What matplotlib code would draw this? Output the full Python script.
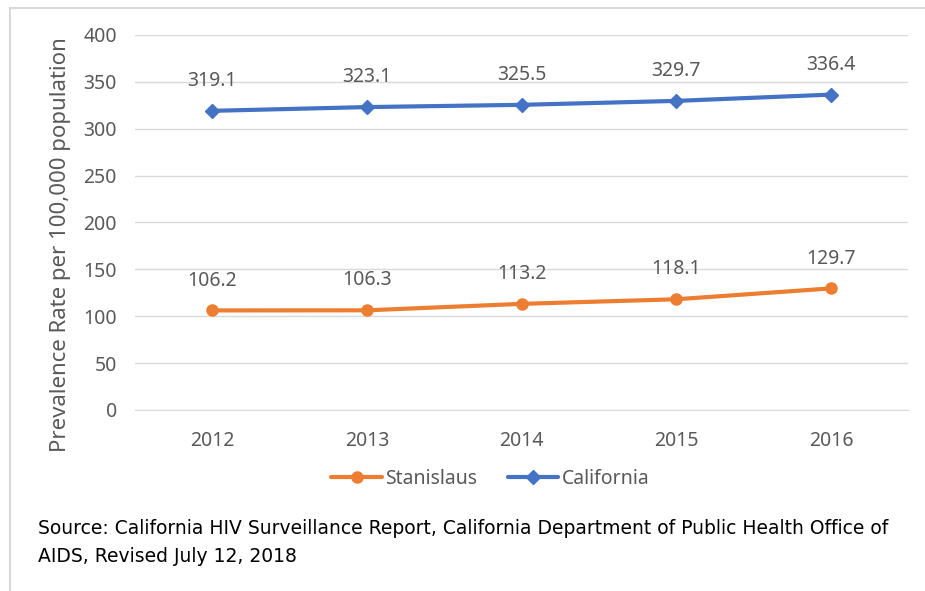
import matplotlib.pyplot as plt
from matplotlib.lines import Line2D

years = ['2012', '2013', '2014', '2015', '2016']
stanislaus = [106.2, 106.3, 113.2, 118.1, 129.7]
california = [319.1, 323.1, 325.5, 329.7, 336.4]
yticks = [0, 50, 100, 150, 200, 250, 300, 350, 400]

grey = '#595959'
orange = '#ED7D31'
blue = '#4472C4'
plt.rcParams['font.family'] = ['Noto Sans', 'DejaVu Sans']

fig = plt.figure(figsize=(9.25, 5.91), dpi=100)
ax = fig.add_axes([0.146, 0.3063, 0.836, 0.6345])

x = range(len(years))
ax.plot(x, stanislaus, color=orange, lw=3, marker='o', ms=8, label='Stanislaus',
        solid_capstyle='round')
ax.plot(x, california, color=blue, lw=3, marker='D', ms=7, label='California',
        solid_capstyle='round')

for i in x:
    ax.annotate(f'{stanislaus[i]:.1f}', (i, stanislaus[i]), xytext=(0, 21.5),
                textcoords='offset points', ha='center', va='center',
                color=grey, fontsize=14)
    ax.annotate(f'{california[i]:.1f}', (i, california[i]), xytext=(0, 21.5),
                textcoords='offset points', ha='center', va='center',
                color=grey, fontsize=14)

ax.set_xlim(-0.5, 4.5)
ax.set_ylim(0, 400)
ax.set_yticks(yticks)
ax.set_xticks(list(x))
ax.set_xticklabels(years)
ax.grid(axis='y', color='#D9D9D9', lw=1)
ax.set_axisbelow(True)
for s in ['top', 'right', 'left']:
    ax.spines[s].set_visible(False)
ax.spines['bottom'].set_color('#D9D9D9')
ax.tick_params(length=0, colors=grey, labelsize=14)
ax.tick_params(axis='y', pad=13)
ax.tick_params(axis='x', pad=15)
ax.set_ylabel('Prevalence Rate per 100,000 population', color=grey, fontsize=16,
              va='center')
ax.yaxis.set_label_coords(-0.097, 0.44)

fig.legend(loc='center', bbox_to_anchor=(0.53, 0.19), ncol=2, frameon=False,
           fontsize=14, labelcolor=grey, handlelength=2.6, columnspacing=1.6,
           handletextpad=0.15)

fig.text(38 / 925, 1 - 528 / 591, 'Source: California HIV Surveillance Report, California '
         'Department of Public Health Office of', fontsize=13.5, color='black',
         va='center', family=['DejaVu Sans'])
fig.text(38 / 925, 1 - 556 / 591, 'AIDS, Revised July 12, 2018', fontsize=13.5,
         color='black', va='center', family=['DejaVu Sans'])

# outer frame (left and top edges visible)
fig.add_artist(Line2D([10 / 925, 10 / 925], [0, 1 - 8 / 591], color='#D9D9D9', lw=1.5))
fig.add_artist(Line2D([10 / 925, 1], [1 - 8 / 591, 1 - 8 / 591], color='#D9D9D9', lw=1.5))

fig.savefig('out.png', dpi=100)
